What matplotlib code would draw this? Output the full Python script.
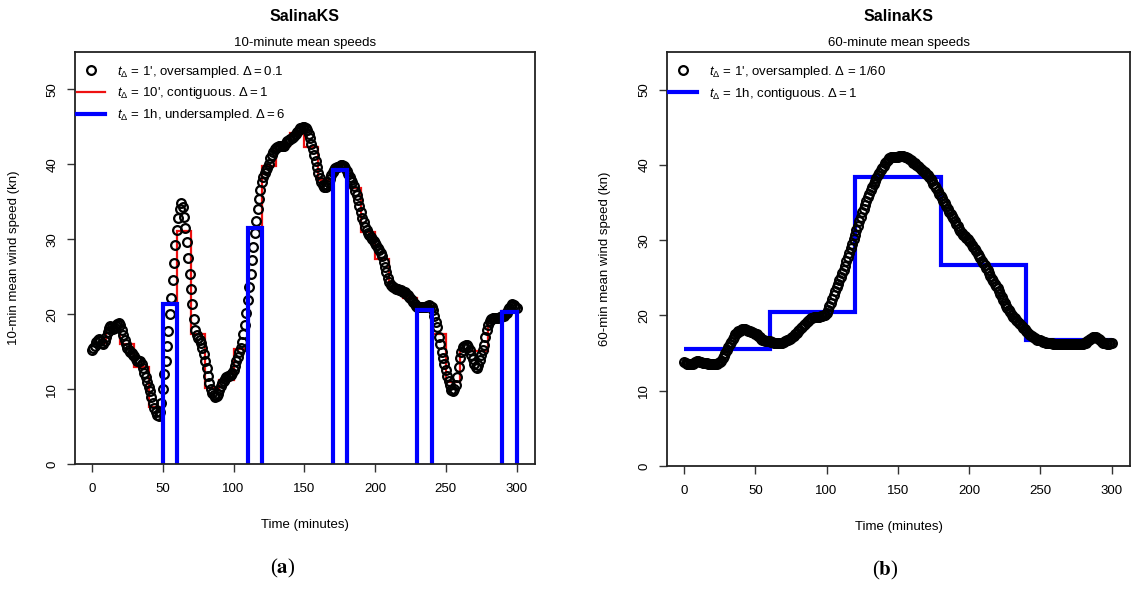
import matplotlib
matplotlib.use("Agg")
import matplotlib.pyplot as plt
from matplotlib.lines import Line2D

plt.rcParams["font.family"] = ["Liberation Sans", "DejaVu Sans"]
plt.rcParams["mathtext.fontset"] = "custom"
plt.rcParams["mathtext.rm"] = "Liberation Sans"
plt.rcParams["mathtext.it"] = "Liberation Sans:italic"

# (a) 1-minute samples of the 10-minute mean, t = 0..300
minutes = list(range(0, 301))
speed_10min_1 = [
    15.2, 15.5, 15.8, 16.3, 16.6, 16.7, 16.4, 16.1, 16.0, 16.4,
    17.0, 17.6, 18.2, 18.4, 18.3, 18.0, 18.1, 18.4, 18.7, 18.8,
    18.5, 17.9, 17.2, 16.6, 16.0, 15.5, 15.2, 15.0, 14.8, 14.6,
    14.4, 14.0, 13.8, 13.8, 13.7, 13.4, 12.8, 12.2, 11.6, 10.9,
    10.3, 9.7, 9.0, 8.2, 7.5, 6.9, 6.5, 6.4, 7.0, 8.2,
    10.0, 12.0, 13.8, 15.8, 17.8, 20.0, 22.2, 24.5, 26.8, 29.2,
    31.2, 32.8, 34.0, 34.9, 34.3, 33.0, 31.5, 29.6, 27.5, 25.4,
    23.4, 21.3, 19.4, 17.9, 17.2, 16.8, 16.5, 16.1, 15.5, 14.7,
    13.8, 12.8, 11.8, 10.8, 10.0, 9.5, 9.2, 9.0, 9.1, 9.4,
    9.9, 10.4, 10.8, 11.1, 11.4, 11.6, 11.7, 11.8, 11.9, 12.2,
    12.6, 13.1, 13.7, 14.3, 14.9, 15.5, 16.3, 17.3, 18.6, 20.2,
    21.9, 23.6, 25.4, 27.2, 29.0, 30.8, 32.5, 34.0, 35.4, 36.6,
    37.6, 38.3, 38.8, 39.2, 39.5, 40.1, 40.8, 41.3, 41.7, 42.0,
    42.2, 42.3, 42.4, 42.5, 42.5, 42.4, 42.5, 42.8, 43.1, 43.3,
    43.4, 43.5, 43.6, 43.8, 44.0, 44.3, 44.6, 44.8, 44.9, 45.0,
    45.0, 44.9, 44.6, 44.1, 43.5, 42.7, 42.0, 41.3, 40.4, 39.6,
    38.8, 38.2, 37.7, 37.3, 37.0, 37.0, 37.2, 37.6, 38.1, 38.6,
    39.0, 39.3, 39.5, 39.6, 39.7, 39.8, 39.9, 39.9, 39.8, 39.5,
    39.1, 38.7, 38.3, 37.9, 37.6, 37.1, 36.5, 35.9, 35.2, 34.4,
    33.6, 32.9, 32.3, 31.7, 31.2, 30.9, 30.6, 30.3, 30.0, 29.8,
    29.5, 29.2, 28.9, 28.6, 28.2, 27.7, 27.0, 26.3, 25.6, 24.8,
    24.3, 23.9, 23.7, 23.6, 23.5, 23.4, 23.3, 23.2, 23.2, 23.1,
    23.0, 22.9, 22.7, 22.5, 22.3, 22.1, 21.9, 21.6, 21.3, 21.1,
    21.0, 20.9, 20.9, 20.9, 20.9, 20.9, 21.0, 21.1, 21.2, 21.1,
    20.9, 20.6, 19.8, 19.0, 18.3, 17.0, 16.0, 15.0, 14.2, 13.3,
    12.6, 11.8, 11.1, 10.5, 9.9, 9.7, 10.0, 10.6, 11.6, 13.0,
    14.2, 15.0, 15.6, 15.8, 15.9, 15.9, 15.6, 15.2, 14.6, 14.0,
    13.4, 12.9, 12.8, 13.2, 13.9, 14.6, 15.2, 15.9, 16.9, 17.9,
    18.6, 19.1, 19.4, 19.5, 19.5, 19.5, 19.5, 19.5, 19.6, 19.6,
    19.7, 19.8, 20.0, 20.2, 20.5, 20.8, 21.1, 21.3, 21.2, 21.0,
    20.8,
]

# (a) contiguous 10-minute means
edges_10 = list(range(0, 301, 10))
speed_10min_10 = [16.1, 18.2, 16.0, 12.9, 7.6, 21.3, 31.1, 17.4, 10.1, 11.2,
                  15.3, 31.5, 39.8, 42.4, 44.2, 42.3, 37.9, 39.3, 36.8, 31.0,
                  27.4, 23.6, 22.1, 20.6, 17.4, 11.0, 15.1, 15.1, 19.2, 20.4]

# (a) hourly undersampled 10-minute means
hour_starts = [50, 110, 170, 230, 290]
hour_vals = [21.3, 31.5, 39.3, 20.5, 20.3]

# (b) 1-minute samples of the 60-minute mean
speed_60min_1 = [
    13.8, 13.7, 13.6, 13.6, 13.6, 13.5, 13.6, 13.7, 13.8, 13.9,
    13.9, 13.8, 13.8, 13.7, 13.7, 13.7, 13.7, 13.6, 13.6, 13.5,
    13.5, 13.5, 13.5, 13.6, 13.7, 13.8, 14.0, 14.3, 14.6, 15.0,
    15.4, 15.8, 16.2, 16.5, 16.9, 17.2, 17.5, 17.7, 17.9, 18.0,
    18.1, 18.2, 18.2, 18.2, 18.1, 18.0, 17.9, 17.8, 17.8, 17.7,
    17.6, 17.5, 17.3, 17.1, 16.9, 16.8, 16.7, 16.6, 16.6, 16.6,
    16.6, 16.5, 16.5, 16.4, 16.4, 16.4, 16.4, 16.4, 16.4, 16.4,
    16.5, 16.6, 16.7, 16.8, 16.9, 17.0, 17.1, 17.3, 17.5, 17.7,
    17.9, 18.1, 18.3, 18.5, 18.7, 18.9, 19.1, 19.3, 19.4, 19.6,
    19.7, 19.8, 19.8, 19.8, 19.8, 19.8, 19.9, 19.9, 20.0, 20.1,
    20.3, 20.7, 21.2, 21.7, 22.2, 22.7, 23.3, 23.8, 24.2, 24.7,
    25.1, 25.6, 26.1, 26.6, 27.2, 27.7, 28.3, 28.9, 29.5, 30.1,
    30.7, 31.3, 31.9, 32.5, 33.1, 33.7, 34.2, 34.7, 35.2, 35.7,
    36.1, 36.6, 37.0, 37.4, 37.8, 38.2, 38.6, 38.9, 39.3, 39.6,
    39.9, 40.2, 40.4, 40.7, 40.9, 41.0, 41.0, 41.0, 41.0, 41.0,
    41.1, 41.2, 41.2, 41.2, 41.2, 41.1, 41.0, 40.9, 40.8, 40.6,
    40.5, 40.3, 40.2, 40.0, 39.8, 39.7, 39.5, 39.3, 39.2, 39.0,
    38.8, 38.6, 38.4, 38.1, 37.8, 37.5, 37.2, 36.9, 36.5, 36.2,
    35.9, 35.6, 35.2, 34.9, 34.5, 34.2, 33.8, 33.5, 33.2, 32.9,
    32.5, 32.2, 31.9, 31.5, 31.2, 30.9, 30.7, 30.5, 30.3, 30.1,
    29.9, 29.7, 29.4, 29.1, 28.8, 28.5, 28.2, 27.9, 27.6, 27.3,
    27.0, 26.7, 26.3, 26.0, 25.6, 25.3, 24.9, 24.6, 24.2, 23.9,
    23.6, 23.2, 22.8, 22.4, 22.0, 21.7, 21.3, 21.0, 20.7, 20.4,
    20.1, 19.8, 19.6, 19.4, 19.2, 19.0, 18.8, 18.6, 18.4, 18.2,
    18.0, 17.8, 17.6, 17.4, 17.3, 17.1, 17.0, 16.9, 16.8, 16.7,
    16.7, 16.6, 16.5, 16.5, 16.4, 16.4, 16.3, 16.3, 16.3, 16.2,
    16.2, 16.2, 16.2, 16.2, 16.2, 16.2, 16.2, 16.2, 16.2, 16.2,
    16.2, 16.2, 16.2, 16.2, 16.2, 16.2, 16.2, 16.2, 16.2, 16.2,
    16.2, 16.3, 16.4, 16.6, 16.8, 16.9, 17.0, 17.1, 17.1, 17.1,
    17.0, 16.9, 16.7, 16.5, 16.4, 16.3, 16.3, 16.2, 16.2, 16.3,
    16.3,
]

# (b) contiguous hourly means
edges_60 = [0, 60, 120, 180, 240, 300]
speed_60min_60 = [15.6, 20.4, 38.4, 26.7, 16.7]

FS = 9.5
MS = 6.3
MEW = 1.6
fig = plt.figure(figsize=(11.47, 5.92), dpi=100)
ax1 = fig.add_axes([0.0654, 0.2162, 0.401, 0.696])
ax2 = fig.add_axes([0.5815, 0.2128, 0.4037, 0.6994])


def style_axes(ax, ylabel):
    ax.set_xlim(-12, 313)
    ax.set_ylim(0, 55)
    ax.set_xticks([0, 50, 100, 150, 200, 250, 300])
    ax.set_yticks([0, 10, 20, 30, 40, 50])
    ax.tick_params(direction="out", length=6, width=1, labelsize=FS, color="#333333")
    ax.tick_params(axis="x", pad=8)
    ax.tick_params(axis="y", pad=6)
    for lab in ax.get_yticklabels():
        lab.set_rotation(90)
        lab.set_va("center")
    for s in ax.spines.values():
        s.set_linewidth(1.3)
        s.set_color("#222222")
    ax.set_xlabel("Time (minutes)", fontsize=FS)
    ax.xaxis.set_label_coords(0.5, -0.133)
    ax.set_ylabel(ylabel, fontsize=FS)
    ax.yaxis.set_label_coords(-0.12, 0.5)
    ax.text(0.5, 1.085, "SalinaKS", transform=ax.transAxes, ha="center", va="center",
            fontsize=11.5, fontweight="bold")


# panel (a)
ax1.plot(minutes, speed_10min_1, linestyle="none", marker="o", markersize=MS,
         markerfacecolor="none", markeredgecolor="black", markeredgewidth=MEW)
ax1.stairs(speed_10min_10, edges_10, baseline=None, color="#ee1111", linewidth=1.6)
for x0, v in zip(hour_starts, hour_vals):
    ax1.plot([x0, x0, x0 + 10, x0 + 10], [0, v, v, 0], color="#0000ff", linewidth=3,
             solid_joinstyle="miter")
style_axes(ax1, "10-min mean wind speed (kn)")
ax1.set_title("10-minute mean speeds", fontsize=FS, pad=4)

h1 = [Line2D([], [], linestyle="none", marker="o", markersize=MS, markerfacecolor="none",
             markeredgecolor="black", markeredgewidth=MEW),
      Line2D([], [], color="#ee1111", linewidth=1.6),
      Line2D([], [], color="#0000ff", linewidth=3)]
l1 = [r"$t_{\Delta}$ = 1', oversampled. $\Delta = 0.1$",
      r"$t_{\Delta}$ = 10', contiguous. $\Delta = 1$",
      r"$t_{\Delta}$ = 1h, undersampled. $\Delta = 6$"]
ax1.legend(h1, l1, loc="upper left", bbox_to_anchor=(0.005, 0.972), frameon=False,
           fontsize=FS, handlelength=2.1, handletextpad=0.9, labelspacing=0.45,
           borderaxespad=0, borderpad=0)

# panel (b)
ax2.plot(minutes, speed_60min_1, linestyle="none", marker="o", markersize=MS,
         markerfacecolor="none", markeredgecolor="black", markeredgewidth=MEW)
ax2.stairs(speed_60min_60, edges_60, baseline=None, color="#0000ff", linewidth=3)
style_axes(ax2, "60-min mean wind speed (kn)")
ax2.set_title("60-minute mean speeds", fontsize=FS, pad=4)

h2 = [h1[0], Line2D([], [], color="#0000ff", linewidth=3)]
l2 = [r"$t_{\Delta}$ = 1', oversampled. $\Delta$ = 1/60",
      r"$t_{\Delta}$ = 1h, contiguous. $\Delta = 1$"]
ax2.legend(h2, l2, loc="upper left", bbox_to_anchor=(0.005, 0.972), frameon=False,
           fontsize=FS, handlelength=2.1, handletextpad=0.9, labelspacing=0.45,
           borderaxespad=0, borderpad=0)

fig.text(283 / 1147, 1 - 568 / 592, r"($\mathbf{a}$)", ha="center", va="center",
         fontsize=15, family="Liberation Serif", math_fontfamily="stix")
fig.text(885 / 1147, 1 - 570 / 592, r"($\mathbf{b}$)", ha="center", va="center",
         fontsize=15, family="Liberation Serif", math_fontfamily="stix")

fig.savefig("out.png", dpi=100)
